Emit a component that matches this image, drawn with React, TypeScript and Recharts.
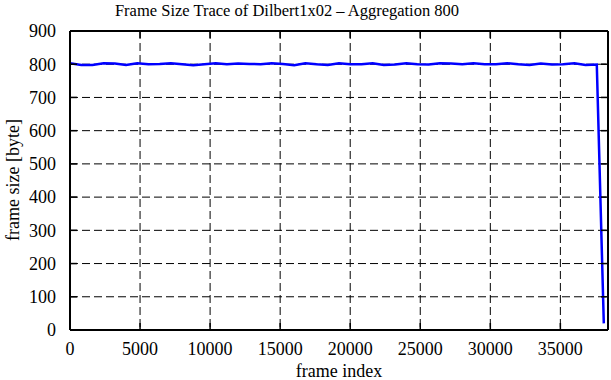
import { LineChart, Line, XAxis, YAxis, CartesianGrid, ReferenceLine, Label } from "recharts";

// frame index (aggregation step 800) and the aggregated frame size
const frameIndex = [
  0, 800, 1600, 2400, 3200, 4000, 4800, 5600, 6400, 7200, 8000, 8800, 9600, 10400, 11200, 12000,
  12800, 13600, 14400, 15200, 16000, 16800, 17600, 18400, 19200, 20000, 20800, 21600, 22400, 23200,
  24000, 24800, 25600, 26400, 27200, 28000, 28800, 29600, 30400, 31200, 32000, 32800, 33600, 34400,
  35200, 36000, 36800, 37600, 38100,
];
const frameSize = [
  803, 798, 798, 803, 802, 798, 803, 800, 801, 803, 800, 797, 800, 803, 800, 802,
  801, 800, 803, 801, 797, 803, 800, 798, 803, 800, 800, 803, 798, 799,
  803, 800, 799, 803, 802, 800, 803, 800, 800, 803, 800, 798, 802, 799,
  800, 803, 798, 799, 20,
];
const xTicks = [0, 5000, 10000, 15000, 20000, 25000, 30000, 35000];
const yTicks = [0, 100, 200, 300, 400, 500, 600, 700, 800, 900];

const data = frameIndex.map((x, i) => ({ x, size: frameSize[i] }));

const FONT = "'Liberation Serif', 'DejaVu Serif', serif";
const PLOT_TOP = 31;
const PLOT_RIGHT = 608;

// eslint-disable-next-line @typescript-eslint/no-explicit-any
const XTick = (props: any) => {
  const { x, y, payload } = props;
  return (
    <g>
      <line x1={x} x2={x} y1={y} y2={y - 7} stroke="#000" strokeWidth={1.5} />
      <line x1={x} x2={x} y1={PLOT_TOP} y2={PLOT_TOP + 7} stroke="#000" strokeWidth={1.5} />
      <text x={x} y={y + 25} textAnchor="middle" fontSize={18} fontFamily={FONT} fill="#000">
        {payload.value}
      </text>
    </g>
  );
};

// eslint-disable-next-line @typescript-eslint/no-explicit-any
const YTick = (props: any) => {
  const { x, y, payload } = props;
  return (
    <g>
      <line x1={x} x2={x + 7} y1={y} y2={y} stroke="#000" strokeWidth={1.5} />
      <line x1={PLOT_RIGHT - 7} x2={PLOT_RIGHT} y1={y} y2={y} stroke="#000" strokeWidth={1.5} />
      <text x={x - 14} y={y} dy="0.35em" textAnchor="end" fontSize={18} fontFamily={FONT} fill="#000">
        {payload.value}
      </text>
    </g>
  );
};

export default function App() {
  return (
    <div style={{ position: "absolute", left: 0, top: 0, width: 611, height: 380, background: "#fff" }}>
      <div
        style={{
          position: "absolute",
          left: 0,
          width: 574,
          top: 1,
          textAlign: "center",
          fontFamily: FONT,
          fontSize: 16.5,
          color: "#000",
          lineHeight: "20px",
        }}
      >
        Frame Size Trace of Dilbert1x02 – Aggregation 800
      </div>
      <LineChart width={611} height={380} data={data} margin={{ top: PLOT_TOP, right: 3, left: 0, bottom: 0 }}>
        <CartesianGrid stroke="#000" strokeDasharray="8 4" strokeWidth={1} />
        <XAxis
          dataKey="x"
          type="number"
          domain={[0, 38400]}
          ticks={xTicks}
          allowDataOverflow
          height={50}
          tickSize={0}
          tickMargin={0}
          tick={<XTick />}
          axisLine={{ stroke: "#000", strokeWidth: 2 }}
        >
          <Label value="frame index" position="insideBottom" offset={3} fontSize={18} fontFamily={FONT} fill="#000" />
        </XAxis>
        <YAxis
          type="number"
          domain={[0, 900]}
          ticks={yTicks}
          width={70}
          tickSize={0}
          tickMargin={0}
          tick={<YTick />}
          axisLine={{ stroke: "#000", strokeWidth: 2 }}
        >
          <Label
            content={() => (
              <text
                x={13}
                y={180}
                transform="rotate(-90 13 180)"
                textAnchor="middle"
                dy="0.35em"
                fontSize={18}
                fontFamily={FONT}
                fill="#000"
              >
                frame size [byte]
              </text>
            )}
          />
        </YAxis>
        <ReferenceLine y={900} stroke="#000" strokeWidth={2} />
        <ReferenceLine x={38400} stroke="#000" strokeWidth={2} />
        <Line
          type="linear"
          dataKey="size"
          stroke="#0000ff"
          strokeWidth={2.5}
          dot={false}
          isAnimationActive={false}
        />
      </LineChart>
    </div>
  );
}
